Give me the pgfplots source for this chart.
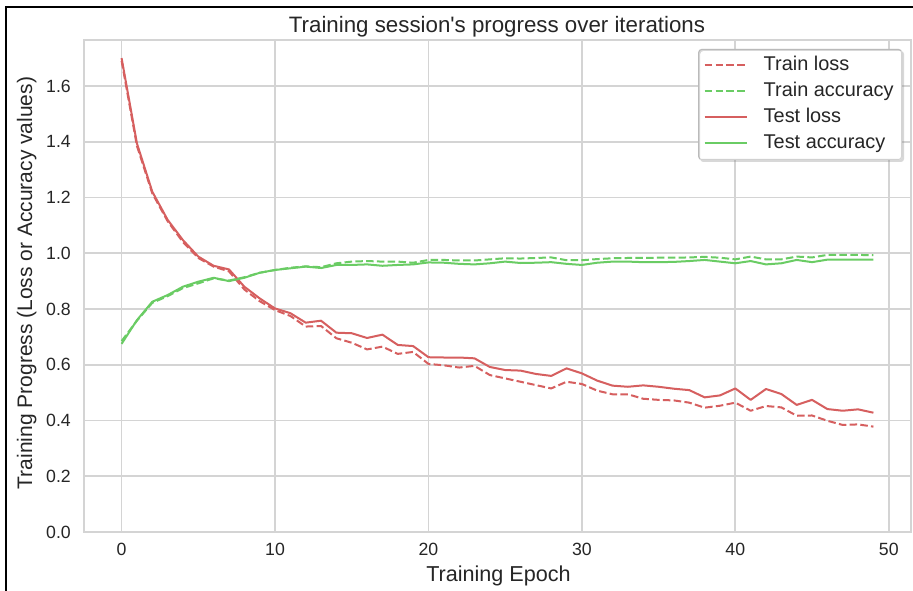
\documentclass[border=0pt]{standalone}
\usepackage{fontspec}
\setmainfont{Liberation Sans}
\usepackage{pgfplots}
\pgfplotsset{compat=1.18}
\definecolor{mred}{HTML}{D65F5F}
\definecolor{mgreen}{HTML}{6ACC64}
\definecolor{txt}{HTML}{262626}
\definecolor{gridc}{HTML}{D4D4D4}
\begin{document}
\begin{tikzpicture}[x=1pt,y=1pt]
\useasboundingbox (0,0) rectangle (913,590);
\fill[white] (0,0) rectangle (913,590);
\begin{axis}[
  at={(84pt,58pt)}, anchor=south west,
  scale only axis, width=827pt, height=492pt,
  xmin=-2.45, xmax=51.45, ymin=0, ymax=1.765,
  xtick={0,10,20,30,40,50},
  ytick={0,0.2,0.4,0.6,0.8,1.0,1.2,1.4,1.6},
  grid=major,
  major grid style={draw=gridc, line width=1.8pt},
  axis line style={draw=gridc, line width=1.8pt},
  major tick length=0pt,
  /pgf/number format/assume math mode=true,
  ticklabel style={font=\fontsize{17.7}{20}\selectfont, text=txt},
  yticklabel style={/pgf/number format/.cd, fixed, fixed zerofill, precision=1, /tikz/.cd, anchor=east, inner sep=0pt, xshift=-13pt},
  xticklabel style={anchor=north, inner sep=0pt, yshift=-11pt},
  legend style={name=leg, at={(rel axis cs:1,1)}, anchor=north east, xshift=-9pt, yshift=-9pt,
    draw=gridc, line width=1pt, rounded corners=3pt, fill=white,
    font=\fontsize{19.9}{24}\selectfont, text=txt,
    inner xsep=5pt, inner ysep=6pt, row sep=6pt, column sep=16pt,
    nodes={inner sep=0pt, text height=15pt, text depth=5pt}},
  legend cell align=left,
  legend image code/.code={\draw[#1] (0pt,0pt) -- (42pt,0pt);},
  every axis plot/.append style={line width=2pt, line join=round},
]
\addplot[mred, dash pattern=on 7.5pt off 3.3pt] coordinates {
(0,1.690)(1,1.385)(2,1.215)(3,1.115)(4,1.040)(5,0.983)(6,0.952)(7,0.935)(8,0.870)(9,0.828)
(10,0.796)(11,0.775)(12,0.737)(13,0.739)(14,0.695)(15,0.679)(16,0.655)(17,0.665)(18,0.639)(19,0.646)
(20,0.603)(21,0.598)(22,0.590)(23,0.596)(24,0.563)(25,0.551)(26,0.539)(27,0.527)(28,0.515)(29,0.539)
(30,0.531)(31,0.507)(32,0.494)(33,0.494)(34,0.478)(35,0.474)(36,0.472)(37,0.464)(38,0.446)(39,0.453)
(40,0.464)(41,0.435)(42,0.452)(43,0.447)(44,0.417)(45,0.418)(46,0.399)(47,0.384)(48,0.386)(49,0.378)};
\addlegendentry{Train loss\hspace*{3pt}}
\addplot[mgreen, dash pattern=on 7.5pt off 3.3pt] coordinates {
(0,0.685)(1,0.758)(2,0.822)(3,0.846)(4,0.875)(5,0.892)(6,0.910)(7,0.902)(8,0.914)(9,0.930)
(10,0.940)(11,0.948)(12,0.953)(13,0.950)(14,0.964)(15,0.970)(16,0.972)(17,0.970)(18,0.970)(19,0.966)
(20,0.976)(21,0.976)(22,0.974)(23,0.974)(24,0.978)(25,0.982)(26,0.981)(27,0.983)(28,0.985)(29,0.975)
(30,0.975)(31,0.979)(32,0.982)(33,0.983)(34,0.983)(35,0.984)(36,0.984)(37,0.985)(38,0.987)(39,0.984)
(40,0.978)(41,0.988)(42,0.978)(43,0.978)(44,0.988)(45,0.985)(46,0.994)(47,0.994)(48,0.994)(49,0.993)};
\addlegendentry{Train accuracy\hspace*{3pt}}
\addplot[mred] coordinates {
(0,1.700)(1,1.394)(2,1.221)(3,1.120)(4,1.047)(5,0.988)(6,0.955)(7,0.942)(8,0.880)(9,0.838)
(10,0.802)(11,0.785)(12,0.751)(13,0.758)(14,0.715)(15,0.713)(16,0.696)(17,0.708)(18,0.671)(19,0.667)
(20,0.627)(21,0.626)(22,0.626)(23,0.623)(24,0.592)(25,0.581)(26,0.579)(27,0.567)(28,0.560)(29,0.587)
(30,0.569)(31,0.543)(32,0.525)(33,0.521)(34,0.526)(35,0.521)(36,0.514)(37,0.509)(38,0.483)(39,0.490)
(40,0.515)(41,0.474)(42,0.513)(43,0.495)(44,0.456)(45,0.474)(46,0.441)(47,0.435)(48,0.440)(49,0.428)};
\addlegendentry{Test loss\hspace*{3pt}}
\addplot[mgreen] coordinates {
(0,0.675)(1,0.760)(2,0.826)(3,0.850)(4,0.880)(5,0.898)(6,0.912)(7,0.900)(8,0.912)(9,0.930)
(10,0.940)(11,0.946)(12,0.952)(13,0.947)(14,0.958)(15,0.958)(16,0.960)(17,0.955)(18,0.958)(19,0.960)
(20,0.967)(21,0.966)(22,0.962)(23,0.960)(24,0.964)(25,0.970)(26,0.965)(27,0.966)(28,0.968)(29,0.962)
(30,0.958)(31,0.966)(32,0.970)(33,0.970)(34,0.968)(35,0.968)(36,0.969)(37,0.972)(38,0.976)(39,0.970)
(40,0.964)(41,0.972)(42,0.960)(43,0.964)(44,0.976)(45,0.968)(46,0.977)(47,0.977)(48,0.977)(49,0.977)};
\addlegendentry{Test accuracy\hspace*{3pt}}
\end{axis}
\fill[gray, opacity=0.3, even odd rule, rounded corners=3pt]
  ([xshift=2pt,yshift=-2pt]leg.south west) rectangle ([xshift=2pt,yshift=-2pt]leg.north east)
  (leg.south west) rectangle (leg.north east);
\node[anchor=base, text=txt, font=\fontsize{22.3}{26}\selectfont] at (497,557) {Training session\textquotesingle s progress over iterations};
\node[anchor=base, text=txt, font=\fontsize{21.6}{26}\selectfont] at (498.5,9) {Training Epoch};
\node[anchor=base, rotate=90, text=txt, font=\fontsize{21}{26}\selectfont] at (32,307) {Training Progress (Loss or Accuracy values)};
\draw[black, line width=2.2pt] (6,-2) -- (6,583) -- (915,583);
\end{tikzpicture}
\end{document}
